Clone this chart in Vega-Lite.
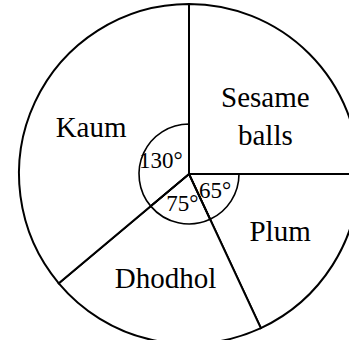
{
  "$schema": "https://vega.github.io/schema/vega-lite/v6.json",
  "width": 349,
  "height": 340,
  "autosize": {"type": "fit", "contains": "padding"},
  "padding": {"left": 29, "right": 0, "top": 8, "bottom": 0},
  "background": "white",
  "config": {"view": {"stroke": null}},
  "data": {
    "values": [
      {"food": "Sesame\nballs", "angle": 90, "deg": ""},
      {"food": "Plum", "angle": 65, "deg": "65°"},
      {"food": "Dhodhol", "angle": 75, "deg": "75°"},
      {"food": "Kaum", "angle": 130, "deg": "130°"}
    ]
  },
  "transform": [
    {"window": [{"op": "row_number", "as": "slice"}]}
  ],
  "encoding": {
    "theta": {"field": "angle", "type": "quantitative", "stack": true, "scale": {"domain": [0, 360]}},
    "order": {"field": "slice", "type": "quantitative", "sort": "ascending"}
  },
  "layer": [
    {
      "mark": {"type": "arc", "radius": 170, "fill": "white", "stroke": "black", "strokeWidth": 2}
    },
    {
      "mark": {"type": "arc", "radius": 50, "fillOpacity": 0, "strokeWidth": 1.6},
      "encoding": {
        "stroke": {
          "condition": {"test": "datum.angle === 90", "value": "transparent"},
          "value": "black"
        }
      }
    },
    {
      "mark": {"type": "text", "radius": 108, "font": "Liberation Serif", "fontSize": 29, "lineBreak": "\n", "lineHeight": 38, "align": "center", "baseline": "middle", "color": "black"},
      "encoding": {"text": {"field": "food"}}
    },
    {
      "mark": {"type": "text", "radius": 31, "font": "Liberation Serif", "fontSize": 23, "align": "center", "baseline": "middle", "color": "black"},
      "encoding": {"text": {"field": "deg"}}
    }
  ]
}
